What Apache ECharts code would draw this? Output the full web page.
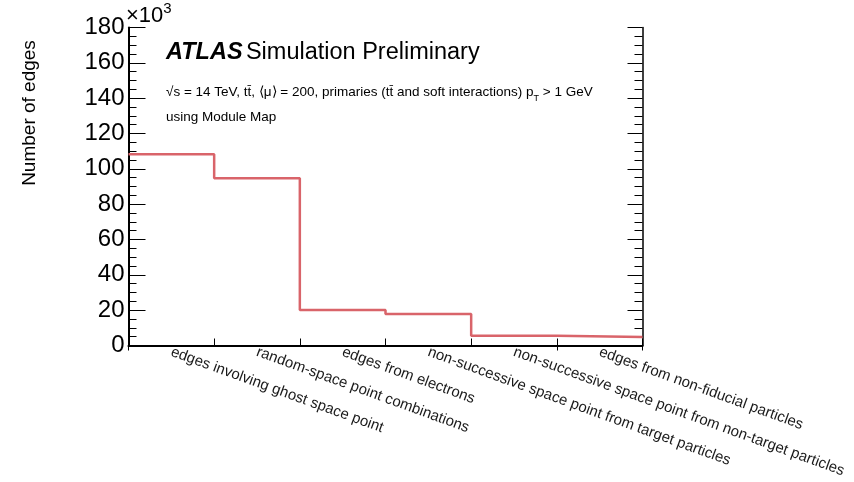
<!DOCTYPE html>
<html>
<head>
<meta charset="utf-8">
<script src="https://cdn.jsdelivr.net/npm/echarts@6/dist/echarts.min.js"></script>
<style>
html,body{margin:0;padding:0;background:#fff;}
#chart{width:854px;height:482px;}
</style>
</head>
<body>
<div id="chart"></div>
<script>
// Data (values in units of 10^3 edges)
const categories = [
  'edges involving ghost space point',
  'random-space point combinations',
  'edges from electrons',
  'non-successive space point from target particles',
  'non-successive space point from non-target particles',
  'edges from non-fiducial particles'
];
const edgeCounts = [108.2, 94.6, 20.1, 17.8, 5.5, 4.8];
const yTicks = { min: 0, max: 180, interval: 20 };

// Step histogram built from bin edges (bin i spans [i, i+1])
const stepData = edgeCounts.map((v, i) => [i, v]);
stepData.push([edgeCounts.length, edgeCounts[edgeCounts.length - 1]]);

const FONT = '"Liberation Sans", Arial, Helvetica, sans-serif';
const chart = echarts.init(document.getElementById('chart'), null, { renderer: 'canvas' });

const grid = { left: 128.5, right: 211.5, top: 27.5, bottom: 136.5 };

chart.setOption({
  animation: false,
  backgroundColor: '#ffffff',
  grid: grid,
  xAxis: [
    {
      type: 'category', data: categories, position: 'bottom', boundaryGap: true,
      axisLine: { show: true, lineStyle: { color: '#000', width: 2 } },
      axisTick: { show: true, inside: true, length: 7, alignWithLabel: false, lineStyle: { color: '#000', width: 1 } },
      axisLabel: { show: true, rotate: -20, interval: 0, margin: 6, fontSize: 15, color: '#1a1a1a', fontFamily: FONT },
      splitLine: { show: false }
    },
    {
      type: 'category', data: categories, position: 'top', boundaryGap: true,
      axisLine: { show: true, lineStyle: { color: '#000', width: 1.5 } },
      axisTick: { show: true, inside: true, length: 5, lineStyle: { color: '#000', width: 1 } },
      axisLabel: { show: false },
      splitLine: { show: false }
    },
    {
      type: 'value', min: 0, max: categories.length, show: false, position: 'bottom'
    }
  ],
  yAxis: [
    {
      type: 'value', min: yTicks.min, max: yTicks.max, interval: yTicks.interval, position: 'left',
      axisLine: { show: true, lineStyle: { color: '#000', width: 2 } },
      axisTick: { show: true, inside: true, length: 17, lineStyle: { color: '#000', width: 1 } },
      minorTick: { show: true, splitNumber: 4, length: 8, lineStyle: { color: '#000', width: 1 } },
      axisLabel: { show: true, fontSize: 24, color: '#000', fontFamily: FONT, margin: 4 },
      splitLine: { show: false }
    },
    {
      type: 'value', min: yTicks.min, max: yTicks.max, interval: yTicks.interval, position: 'right',
      axisLine: { show: true, lineStyle: { color: '#000', width: 1.5 } },
      axisTick: { show: true, inside: true, length: 15, lineStyle: { color: '#000', width: 1 } },
      minorTick: { show: true, splitNumber: 4, length: 8, lineStyle: { color: '#000', width: 1 } },
      axisLabel: { show: false },
      splitLine: { show: false }
    }
  ],
  series: [
    {
      type: 'line', xAxisIndex: 2, yAxisIndex: 0, step: 'end', data: stepData,
      symbol: 'none', silent: true,
      lineStyle: { color: '#d9646a', width: 2.5 }
    }
  ],
  graphic: [
    {
      type: 'text', left: 126, top: 1,
      style: {
        text: '{a|×10}{s|3}', fontFamily: FONT,
        rich: {
          a: { fontSize: 22, fontFamily: FONT, fill: '#000', lineHeight: 26, verticalAlign: 'bottom' },
          s: { fontSize: 15, fontFamily: FONT, fill: '#000', lineHeight: 26, verticalAlign: 'top', padding: [0, 0, 10, 0] }
        }
      }
    },
    {
      type: 'text', x: 30, y: 113, rotation: Math.PI / 2,
      style: { text: 'Number of edges', fontSize: 19, fontFamily: FONT, fill: '#000', align: 'center', verticalAlign: 'middle' }
    },
    {
      type: 'text', left: 166, top: 41,
      style: {
        text: '{b|ATLAS} {n|Simulation Preliminary}',
        rich: {
          b: { fontSize: 23.5, fontWeight: 'bold', fontStyle: 'italic', fontFamily: FONT, fill: '#000' },
          n: { fontSize: 23.5, fontFamily: FONT, fill: '#000' }
        }
      }
    },
    {
      type: 'text', left: 166, top: 81,
      style: {
        text: '{a|√s = 14 TeV, tt\u0304, \u27E8μ\u27E9 = 200, primaries (tt\u0304 and soft interactions) p}{s|T}{a| > 1 GeV}',
        rich: {
          a: { fontSize: 13.5, fontFamily: FONT, fill: '#000', lineHeight: 19 },
          s: { fontSize: 9, fontFamily: FONT, fill: '#000', lineHeight: 19, padding: [13, 0, 0, 0] }
        }
      }
    },
    {
      type: 'text', left: 166, top: 110,
      style: { text: 'using Module Map', fontSize: 13.5, fontFamily: FONT, fill: '#000' }
    }
  ]
});
</script>
</body>
</html>
